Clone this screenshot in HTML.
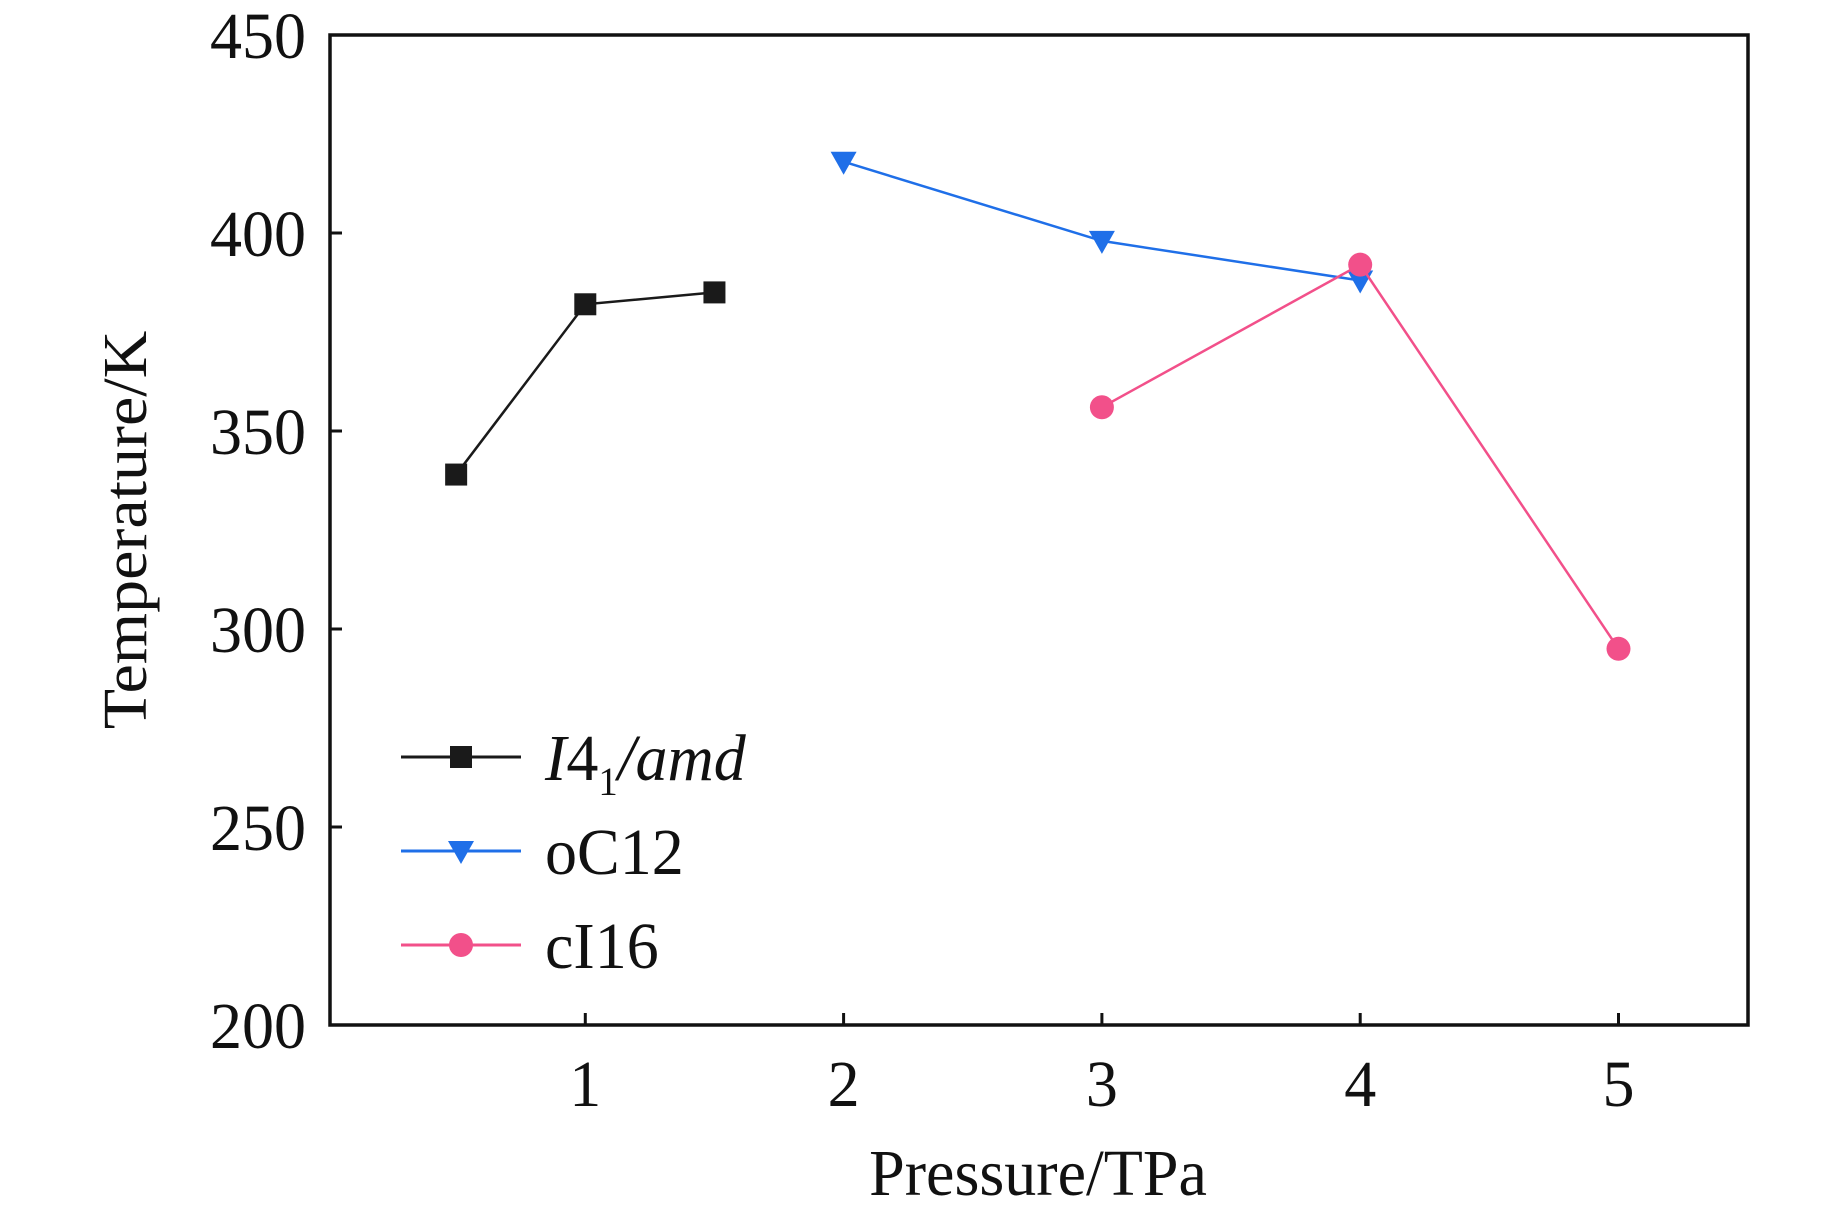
<!DOCTYPE html>
<html><head><meta charset="utf-8"><style>
html,body{margin:0;padding:0;background:#fff;}
svg{display:block;font-family:"Liberation Serif",serif;}
</style></head><body>
<svg id="chart" width="1843" height="1216" viewBox="0 0 1843 1216"></svg>
<script>
const xTicks=[1,2,3,4,5];
const yTicks=[200,250,300,350,400,450];
const i41X=[0.5,1,1.5];
const i41Y=[339,382,385];
const oc12X=[2,3,4];
const oc12Y=[418,398,388];
const ci16X=[3,4,5];
const ci16Y=[356,392,295];
const seriesNames=["I4₁/amd","oC12","cI16"];

const L=330,R=1748,T=35,B=1025;
function sx(v){return 327+v*258.3;}
function sy(v){return B-(v-200)*(B-T)/250;}
const NS="http://www.w3.org/2000/svg";
const svg=document.getElementById('chart');
function mk(tag,attrs,parent){const e=document.createElementNS(NS,tag);for(const k in attrs)e.setAttribute(k,attrs[k]);(parent||svg).appendChild(e);return e;}
function txt(x,y,anchor,size,str){
  const t=mk('text',{x:0,y:0,'text-anchor':anchor,'font-size':size,fill:'#111',transform:`translate(${x},${y}) scale(0.97,1)`});
  t.textContent=str;return t;
}

const frame=mk('rect',{x:L,y:T,width:R-L,height:B-T,fill:'none',stroke:'#111','stroke-width':3.5});



xTicks.forEach(v=>{
  const t=mk('line',{x1:sx(v),x2:sx(v),y1:B,y2:B-12,stroke:'#111','stroke-width':3});
  
  
  const l=txt(sx(v),1106,'middle',66,v);
  
  
});
yTicks.forEach(v=>{
  const t=mk('line',{x1:L,x2:L+12,y1:sy(v),y2:sy(v),stroke:'#111','stroke-width':3});
  
  
  const l=txt(306,sy(v)+23,'end',66,v);
  
  
});

const xt=txt(1038,1195,'middle',66,'Pressure/TPa');


const yt=mk('text',{x:0,y:0,'text-anchor':'middle','font-size':66,fill:'#111',transform:'translate(146,530) rotate(-90) scale(1,0.94)'});
yt.textContent='Temperature/K';



function marker(type,x,y,color,g){
  if(type==='square') return mk('rect',{x:x-11,y:y-11,width:22,height:22,fill:color},g);
  if(type==='tri') return mk('polygon',{points:`${x-13},${y-10} ${x+13},${y-10} ${x},${y+13}`,fill:color},g);
  return mk('circle',{cx:x,cy:y,r:12,fill:color},g);
}
const series=[
  {name:'i41amd',xs:i41X,ys:i41Y,color:'#1a1a1a',m:'square'},
  {name:'oc12',xs:oc12X,ys:oc12Y,color:'#1f6fe8',m:'tri'},
  {name:'ci16',xs:ci16X,ys:ci16Y,color:'#f2508a',m:'circle'}
];
series.forEach(s=>{
  const g=mk('g',{});
  
  
  const pl=mk('polyline',{points:s.xs.map((x,i)=>sx(x)+','+sy(s.ys[i])).join(' '),fill:'none',stroke:s.color,'stroke-width':2.5},g);
  
  
  s.xs.forEach((x,i)=>{
    const p=marker(s.m,sx(x),sy(s.ys[i]),s.color,g);
    
    
  });
});

const legY=[757,851,945];
series.forEach((s,i)=>{
  const g=mk('g',{});
  
  
  mk('line',{x1:401,x2:521,y1:legY[i],y2:legY[i],stroke:s.color,'stroke-width':3},g);
  marker(s.m,461,legY[i],s.color,g);
  const t=mk('text',{x:0,y:0,'font-size':66,fill:'#111',transform:`translate(545,${legY[i]+23}) scale(0.97,1)`},g);
  if(i===0){
    t.innerHTML='<tspan font-style="italic">I</tspan>4<tspan font-size="40" dy="15">1</tspan><tspan dy="-15" font-style="italic">/amd</tspan>';
  } else t.textContent=seriesNames[i];
});
</script>
</body></html>
